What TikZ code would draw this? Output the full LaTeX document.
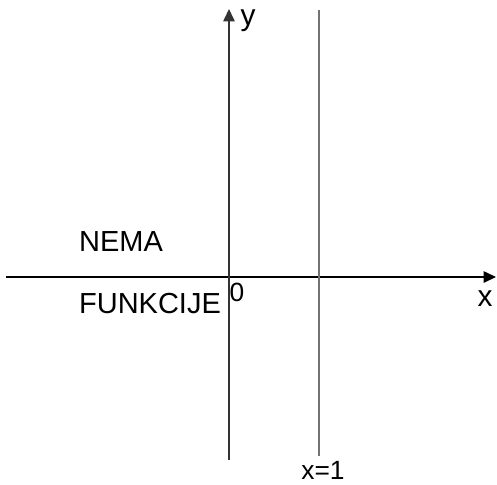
\documentclass[tikz,border=0pt]{standalone}
\usepackage{fontspec}
\setmainfont{Liberation Sans}
\usetikzlibrary{arrows.meta}

\begin{document}
\begin{tikzpicture}[x=0.02cm, y=-0.02cm,
        axis/.style={line width=0.7pt, -{Triangle[length=7pt, width=6.5pt]}},
        lbl/.style={inner sep=0pt, font=\fontsize{15}{18}\selectfont},
        big/.style={lbl, font=\fontsize{17}{20}\selectfont},
        word/.style={lbl, font=\fontsize{16.5}{20}\selectfont},
    ]
        \useasboundingbox (0,0) rectangle (497,484);

        % Axis ends
        \coordinate (xs) at (6,277);
        \coordinate (xe) at (496,277);
        \coordinate (ys) at (229,460);
        \coordinate (ye) at (229,9);
        \coordinate (as) at (319,10);
        \coordinate (ae) at (319,456);

        % Axes and asymptote
        \draw[axis, black] (xs) -- (xe);
        \draw[axis, black!80] (ys) -- (ye);
        \draw[line width=0.7pt, black!55] (as) -- (ae);

        % Labels
        \node[big]  (ylab)  at (248,21)  {y};
        \node[big]  (xlab)  at (485,299) {x};
        \node[lbl]  (orig)  at (237,292) {0};
        \node[word] (nema)  at (121,242) {NEMA};
        \node[word] (funk)  at (150,304) {FUNKCIJE};
        \node[lbl]  (asym)  at (323,470) {x=1};
    \end{tikzpicture}
\end{document}
